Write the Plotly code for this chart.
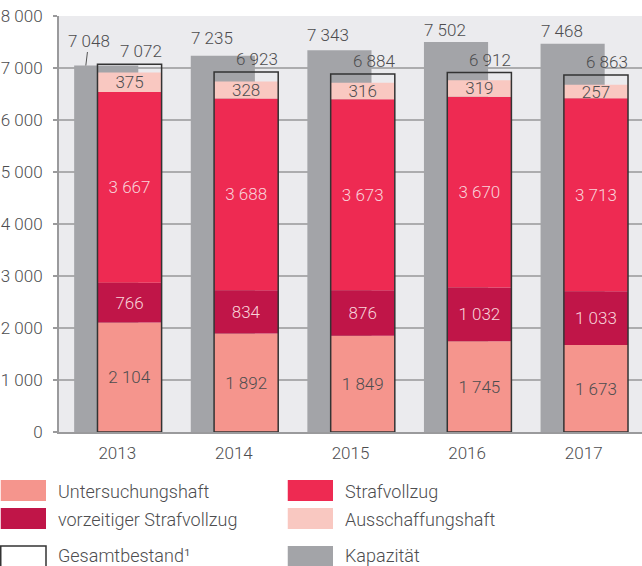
import plotly.graph_objects as go

years = ["2013", "2014", "2015", "2016", "2017"]
untersuchungshaft = [2104, 1892, 1849, 1745, 1673]
vorzeitiger = [766, 834, 876, 1032, 1033]
strafvollzug = [3667, 3688, 3673, 3670, 3713]
ausschaffungshaft = [375, 328, 316, 319, 257]
gesamtbestand = [7072, 6923, 6884, 6912, 6863]
kapazitaet = [7048, 7235, 7343, 7502, 7468]
y_tickvals = [0, 1000, 2000, 3000, 4000, 5000, 6000, 7000, 8000]
y_ticktext = ["0", "1 000", "2 000", "3 000", "4 000", "5 000", "6 000", "7 000", "8 000"]

FONT = "Roboto"
TXT = "#4d4d4f"
LIGHT_TXT = "#f9d3da"
C_UH = "#f5958d"
C_SV = "#ee2a52"
C_VS = "#c01548"
C_AH = "#f9c8c1"
C_KAP = "#a3a4a8"
BG = "#ebebee"

W, H = 642, 566
ML, MR, MT, MB = 59, 0, 16, 134
PW, PH = W - ML - MR, H - MT - MB

def fmt(v):
    return f"{v:,}".replace(",", " ")

BW = 0.55
OFF_CAP = -0.37
OFF_STK = -0.17
FS = 17
FS_LEG = 18
CAP_SHIFT = [0, 18, 15, 12, 13]  # vertical label offsets (style)

fig = go.Figure()

fig.add_trace(go.Bar(x=years, y=kapazitaet, name="Kapazität", marker=dict(color=C_KAP, line=dict(width=0)),
                     width=BW, offset=OFF_CAP, hoverinfo="x+y"))

base = [0] * len(years)
segments = [
    ("Untersuchungshaft", untersuchungshaft, C_UH, TXT),
    ("vorzeitiger Strafvollzug", vorzeitiger, C_VS, LIGHT_TXT),
    ("Strafvollzug", strafvollzug, C_SV, LIGHT_TXT),
    ("Ausschaffungshaft", ausschaffungshaft, C_AH, TXT),
]
for name, vals, col, tcol in segments:
    fig.add_trace(go.Bar(
        x=years, y=vals, base=list(base), name=name,
        marker=dict(color=col, line=dict(width=0)),
        width=BW, offset=OFF_STK,
        text=[fmt(v) for v in vals], textposition="inside", insidetextanchor="middle",
        textangle=0, constraintext="none",
        textfont=dict(family=FONT, size=FS, color=tcol, weight=300),
    ))
    base = [b + v for b, v in zip(base, vals)]

fig.add_trace(go.Bar(x=years, y=gesamtbestand, name="Gesamtbestand",
                     marker=dict(color="rgba(0,0,0,0)", line=dict(color="#333333", width=1.5)),
                     width=BW, offset=OFF_STK))

annotations = []
for i, (c, t) in enumerate(zip(kapazitaet, gesamtbestand)):
    if i == 0:
        annotations.append(dict(x=i + OFF_CAP + 0.1, y=c, xref="x", yref="y", text=fmt(c),
                                showarrow=True, arrowhead=0, arrowwidth=1, arrowcolor="#555",
                                ax=3, ay=-25, font=dict(family=FONT, size=FS, color=TXT, weight=300)))
    else:
        annotations.append(dict(x=i + OFF_CAP, y=c, xref="x", yref="y", text=fmt(c), showarrow=False,
                                xanchor="left", yanchor="middle", yshift=CAP_SHIFT[i], xshift=-2,
                                font=dict(family=FONT, size=FS, color=TXT, weight=300)))
    annotations.append(dict(x=i + OFF_STK + BW, y=t, xref="x", yref="y", text=fmt(t), showarrow=False,
                            xanchor="right", yanchor="middle", yshift=13, xshift=2,
                            font=dict(family=FONT, size=FS, color=TXT, weight=300)))

# manual legend (pixel layout converted to paper coordinates)
def px2x(px):
    return (px - ML) / PW

def py2y(py):
    return (MT + PH - py) / PH

legend_items = [
    ("Untersuchungshaft", C_UH, None, 0, 480, 491.5),
    ("Strafvollzug", C_SV, None, 287, 480, 491.5),
    ("vorzeitiger Strafvollzug", C_VS, None, 0, 508, 519.5),
    ("Ausschaffungshaft", C_AH, None, 287, 508, 519.5),
    ("Gesamtbestand¹", "white", "#333333", 0, 546, 555.5),
    ("Kapazität", C_KAP, None, 287, 546, 555.5),
]
shapes = []
for label, col, lc, lx, ly, ty in legend_items:
    shapes.append(dict(type="rect", xref="paper", yref="paper",
                       x0=px2x(lx + 0.75), x1=px2x(lx + 46), y0=py2y(ly), y1=py2y(ly + 21),
                       fillcolor=col, line=dict(color=lc if lc else col, width=1.5 if lc else 0), layer="above"))
    annotations.append(dict(x=px2x(lx + 56), y=py2y(ty), xref="paper", yref="paper", text=label,
                            showarrow=False, xanchor="left", yanchor="middle",
                            font=dict(family=FONT, size=FS_LEG, color=TXT, weight=300)))

fig.update_layout(
    width=W, height=H,
    margin=dict(l=ML, r=MR, t=MT, b=MB, pad=0),
    barmode="overlay",
    showlegend=False,
    plot_bgcolor=BG, paper_bgcolor="white",
    font=dict(family=FONT, size=FS, color=TXT, weight=300),
    uniformtext=dict(minsize=FS, mode="show"),
    annotations=annotations,
    shapes=shapes,
    xaxis=dict(type="category", range=[-0.5, 4.5], showgrid=False, showline=True, linecolor="#9a9a9c",
               linewidth=2, ticks="", ticklabelstandoff=5, tickfont=dict(family=FONT, size=FS, color=TXT, weight=300),
               fixedrange=True),
    yaxis=dict(range=[0, 8000], tickvals=y_tickvals, ticktext=y_ticktext, showgrid=True, gridcolor="#acacae",
               gridwidth=1.5, showline=True, linecolor="#9a9a9c", linewidth=2, ticks="outside", ticklen=4,
               tickcolor="#9a9a9c", tickwidth=1.5, ticklabelstandoff=7, zeroline=False,
               tickfont=dict(family=FONT, size=FS, color=TXT, weight=300), fixedrange=True),
)

fig.write_html("out.html", config={"displayModeBar": False},
               post_script="document.body.style.margin='0';document.body.style.overflow='hidden';")
